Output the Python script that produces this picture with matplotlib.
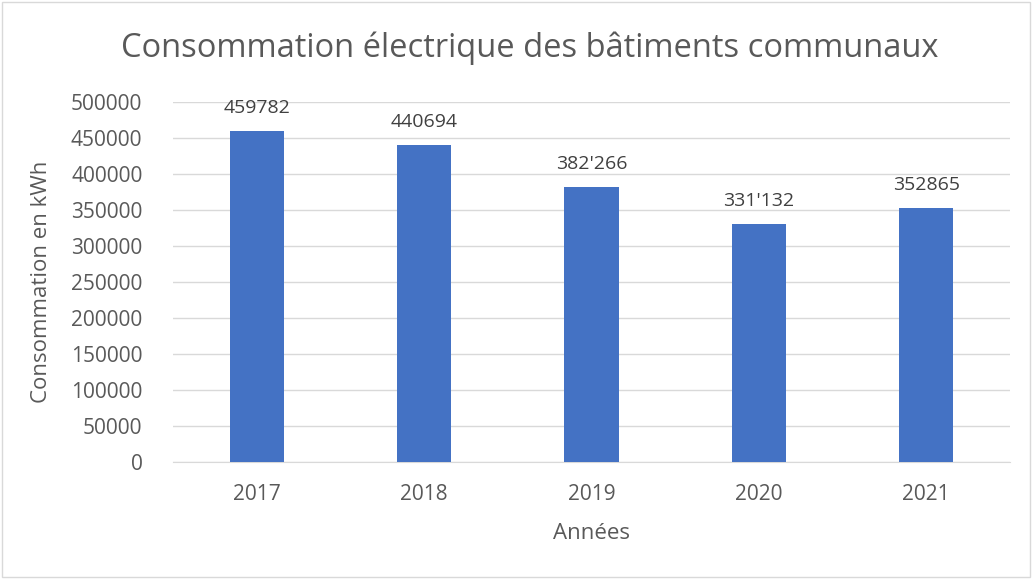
import matplotlib.pyplot as plt
from matplotlib.patches import Rectangle

# === données ===
years = ['2017', '2018', '2019', '2020', '2021']
consumption = [459782, 440694, 382266, 331132, 352865]
value_labels = ['459782', '440694', "382'266", "331'132", '352865']
y_ticks = [0, 50000, 100000, 150000, 200000, 250000, 300000, 350000, 400000, 450000, 500000]

plt.rcParams['font.family'] = ['Open Sans', 'DejaVu Sans']
text_color = '#595959'
grid_color = '#d9d9d9'
bar_color = '#4472C4'

fig = plt.figure(figsize=(10.33, 5.79), dpi=100)
fig.patches.append(Rectangle((0.002, 0.003), 0.995, 0.993, transform=fig.transFigure,
                             fill=False, edgecolor='#d9d9d9', linewidth=1))

ax = fig.add_axes([0.1675, 0.2021, 0.8102, 0.6217])
x = range(len(years))
bars = ax.bar(x, consumption, width=0.325, color=bar_color, zorder=3)

for xi, val, lab in zip(x, consumption, value_labels):
    ax.text(xi, val + 19000, lab, ha='center', va='bottom', fontsize=14, color='#404040')

ax.set_xlim(-0.5, len(years) - 0.5)
ax.set_ylim(0, 500000)
ax.set_yticks(y_ticks)
ax.set_yticklabels([str(t) for t in y_ticks])
ax.set_xticks(list(x))
ax.set_xticklabels(years)
ax.tick_params(axis='both', length=0, labelsize=15, labelcolor=text_color)
ax.tick_params(axis='x', pad=16)
ax.tick_params(axis='y', pad=22)
ax.grid(axis='y', color=grid_color, linewidth=1, zorder=0)
for side in ['top', 'right', 'left']:
    ax.spines[side].set_visible(False)
ax.spines['bottom'].set_color(grid_color)

ax.set_ylabel('Consommation en kWh', fontsize=16, color=text_color, labelpad=14)
ax.set_xlabel('Années', fontsize=16, color=text_color, labelpad=13)

fig.text(0.513, 0.917, 'Consommation électrique des bâtiments communaux',
         ha='center', va='center', fontsize=23.5, color=text_color)

fig.savefig('out.png', dpi=100)
